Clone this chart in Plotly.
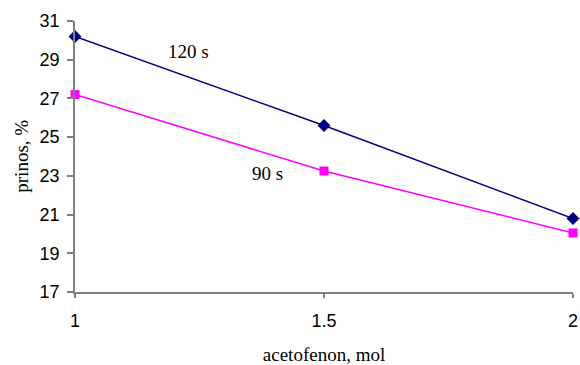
import plotly.graph_objects as go

# acetofenon amount (mol) and yield (%) for two reaction times
acetofenon_mol = [1, 1.5, 2]
prinos_120s = [30.2, 25.6, 20.8]
prinos_90s = [27.2, 23.25, 20.05]
x_ticks = [1, 1.5, 2]
y_ticks = [17, 19, 21, 23, 25, 27, 29, 31]

serif = "Liberation Serif, Times New Roman, serif"
sans = "Liberation Sans, Arial, sans-serif"

fig = go.Figure()
fig.add_trace(go.Scatter(
    x=acetofenon_mol, y=prinos_120s, mode="lines+markers", name="120 s",
    line=dict(color="#000080", width=1.5),
    marker=dict(symbol="diamond", size=10, color="#000080"),
    cliponaxis=False,
))
fig.add_trace(go.Scatter(
    x=acetofenon_mol, y=prinos_90s, mode="lines+markers", name="90 s",
    line=dict(color="#FF00FF", width=1.5),
    marker=dict(symbol="square", size=9, color="#FF00FF"),
    cliponaxis=False,
))

fig.add_annotation(x=1.227, y=29.4, text="120 s", showarrow=False,
                   font=dict(family=serif, size=19, color="black"))
fig.add_annotation(x=1.386, y=23.14, text="90 s", showarrow=False,
                   font=dict(family=serif, size=19, color="black"))
# vertical y-axis title placed beside the tick labels
fig.add_annotation(xref="paper", yref="paper", x=-0.108, y=0.5,
                   xanchor="center", yanchor="middle",
                   text="prinos, %", textangle=-90, showarrow=False,
                   font=dict(family=serif, size=19, color="black"))

fig.update_layout(
    width=580, height=365,
    margin=dict(l=75, r=7, t=21, b=73, autoexpand=False),
    paper_bgcolor="white", plot_bgcolor="white",
    showlegend=False,
)
fig.update_xaxes(
    range=[1, 2], tickvals=x_ticks, ticktext=[str(v) for v in x_ticks],
    automargin=False,
    showgrid=False, zeroline=False,
    showline=True, linecolor="#808080", linewidth=1.5,
    ticks="outside", ticklen=4, tickcolor="#808080", tickwidth=1.5,
    tickfont=dict(family=sans, size=18, color="black"),
    ticklabelstandoff=8,
    title=dict(text="acetofenon, mol", font=dict(family=serif, size=19, color="black"),
               standoff=24),
)
fig.update_yaxes(
    range=[17, 31], tickvals=y_ticks,
    automargin=False,
    showgrid=False, zeroline=False,
    showline=True, linecolor="#808080", linewidth=1.5,
    ticks="outside", ticklen=6, tickcolor="#808080", tickwidth=1.5,
    tickfont=dict(family=sans, size=18, color="black"),
    ticklabelstandoff=4,
)

fig.write_html("out.html")
